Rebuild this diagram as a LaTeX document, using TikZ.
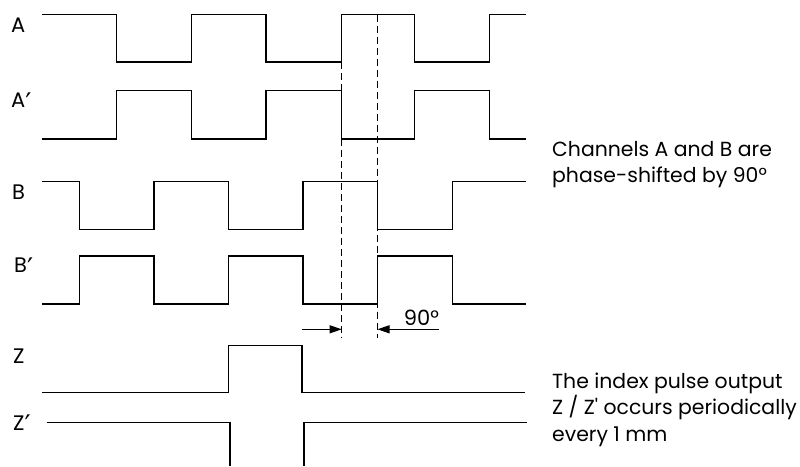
\documentclass[tikz,border=0pt]{standalone}
\usepackage{fontspec}
\setmainfont{Poppins}
\newfontfamily\primefont{DejaVu Sans}
\newcommand{\pr}{\raisebox{-4.5pt}{\primefont\fontsize{27}{27}\selectfont ′}}
\usetikzlibrary{arrows.meta}
\begin{document}
\begin{tikzpicture}[x=1pt,y=-1pt,
  wave/.style={line width=1.3pt, line join=miter},
  guide/.style={line width=1pt, dash pattern=on 7pt off 4pt},
  dim/.style={line width=1pt, -{Triangle[length=12pt,width=8pt]}},
  siglabel/.style={font=\fontsize{21}{24}\selectfont, inner sep=0pt},
  note/.style={font=\fontsize{20.4}{26.7}\selectfont, align=left, anchor=north west, inner sep=0pt}]
\useasboundingbox (0,0) rectangle (800,466);
% A
\draw[wave] (42,14.7) -- (116.7,14.7) -- (116.7,62) -- (191.4,62) -- (191.4,14.7) -- (266,14.7) -- (266,62) -- (341.7,62) -- (341.7,14.7) -- (414.8,14.7) -- (414.8,62) -- (489.5,62) -- (489.5,14.7) -- (526,14.7);
% A'
\draw[wave] (42,139) -- (116.7,139) -- (116.7,90.7) -- (191.4,90.7) -- (191.4,139) -- (266,139) -- (266,90.7) -- (341.7,90.7) -- (341.7,139) -- (414.8,139) -- (414.8,90.7) -- (489.5,90.7) -- (489.5,139) -- (526,139);
% B
\draw[wave] (42,181.5) -- (79.3,181.5) -- (79.3,229.3) -- (154,229.3) -- (154,181.5) -- (228.7,181.5) -- (228.7,229.3) -- (303,229.3) -- (303,181.5) -- (377.7,181.5) -- (377.7,229.3) -- (452.7,229.3) -- (452.7,181.5) -- (526,181.5);
% B'
\draw[wave] (42,304) -- (79.3,304) -- (79.3,256) -- (154,256) -- (154,304) -- (228.7,304) -- (228.7,256) -- (303,256) -- (303,304) -- (377.7,304) -- (377.7,256) -- (452.7,256) -- (452.7,304) -- (526,304);
% Z
\draw[wave] (42,392.3) -- (228.5,392.3) -- (228.5,345.7) -- (302,345.7) -- (302,392.3) -- (524.5,392.3);
% Z'
\draw[wave] (46.7,422.3) -- (230,422.3) -- (230,466);
\draw[wave] (304,466) -- (304,422.3) -- (526.7,422.3);
% guides
\coordinate (g1top) at (341.7,62);
\coordinate (g1bot) at (341.7,338);
\coordinate (g2top) at (377.5,14.7);
\coordinate (g2bot) at (377.5,338);
\draw[guide] (g1top) -- (g1bot);
\draw[guide] (g2top) -- (g2bot);
\coordinate (a1s) at (301.7,329.3);
\coordinate (a1e) at (341.7,329.3);
\coordinate (a2s) at (439.3,329.3);
\coordinate (a2e) at (377.5,329.3);
\draw[dim] (a1s) -- (a1e);
\draw[dim] (a2s) -- (a2e);
\node[siglabel, anchor=base] (deg) at (421.5,325.7) {90°};
% labels
\node[siglabel, anchor=base west] (lA) at (11,32) {A};
\node[siglabel, anchor=base west] (lAp) at (11,107.5) {A\pr};
\node[siglabel, anchor=base west] (lB) at (12,199) {B};
\node[siglabel, anchor=base west] (lBp) at (14,272.5) {B\pr};
\node[siglabel, anchor=base west] (lZ) at (13,363.5) {Z};
\node[siglabel, anchor=base west] (lZp) at (13,430) {Z\pr};
% notes
\node[note] (n1) at (552,141) {Channels A and B are\\phase-shifted by 90°};
\node[note] (n2) at (552,372.5) {The index pulse output\\Z / Z\textquotesingle\ occurs periodically\\every 1 mm};
\end{tikzpicture}
\end{document}
